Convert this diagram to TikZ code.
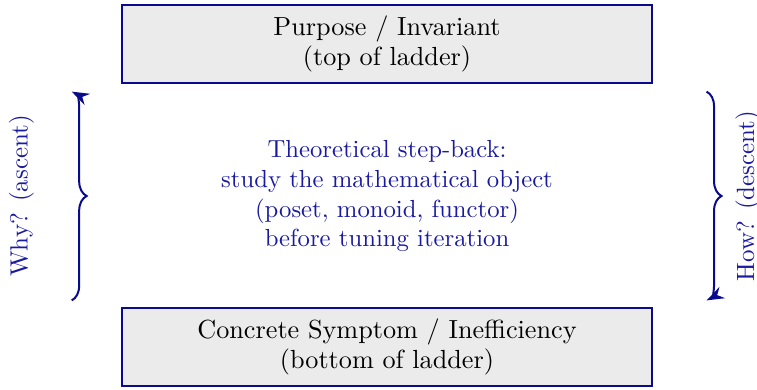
\documentclass[tikz,border=0pt]{standalone}
\usepackage{tikz}
\usetikzlibrary{arrows.meta, positioning, decorations.pathreplacing}
\definecolor{ladderBlue}{HTML}{1A1AA0}
\definecolor{ladderEdge}{HTML}{0A0A8C}
\definecolor{ladderFill}{HTML}{EBEBEB}

\begin{document}
\begin{tikzpicture}[
    rung/.style={rectangle, draw=ladderEdge, line width=0.8pt, fill=ladderFill,
                 minimum width=7.46cm, minimum height=1.1cm, align=center,
                 inner sep=2pt, font=\fontsize{10.5}{12}\selectfont},
    note/.style={text=ladderBlue, align=center, font=\fontsize{9.9}{12}\selectfont},
    bracearrow/.style={ladderEdge, line width=0.8pt, decorate,
                       decoration={brace, amplitude=0.21cm}},
    sidelabel/.style={text=ladderBlue, rotate=90},
  ]
    \useasboundingbox (-5.45, -2.72) rectangle (5.21, 2.76);

    % ─── Ladder ends ───
    \node[rung] (top) at (0, 2.14) {Purpose / Invariant\\(top of ladder)};
    \node[rung] (bottom) at (0, -2.13) {Concrete Symptom / Inefficiency\\(bottom of ladder)};

    % ─── Step-back note in middle ───
    \node[note] (stepback) at (0, 0)
      {Theoretical step-back:\\study the mathematical object\\(poset, monoid, functor)\\before tuning iteration};

    % ─── Braces with directions ───
    \coordinate (ascentlo) at (-4.44, -1.47);
    \coordinate (ascenthi) at (-4.44, 1.47);
    \coordinate (descenthi) at (4.5, 1.47);
    \coordinate (descentlo) at (4.5, -1.47);
    \draw[bracearrow, decoration={mirror}, -{Stealth[length=7pt, width=5pt]}] (ascentlo) -- (ascenthi);
    \draw[bracearrow, -{Stealth[length=7pt, width=5pt]}] (descenthi) -- (descentlo);

    \node[sidelabel] (why) at (-5.15, 0) {Why? (ascent)};
    \node[sidelabel] (how) at (5.08, 0) {How? (descent)};
\end{tikzpicture}
\end{document}
